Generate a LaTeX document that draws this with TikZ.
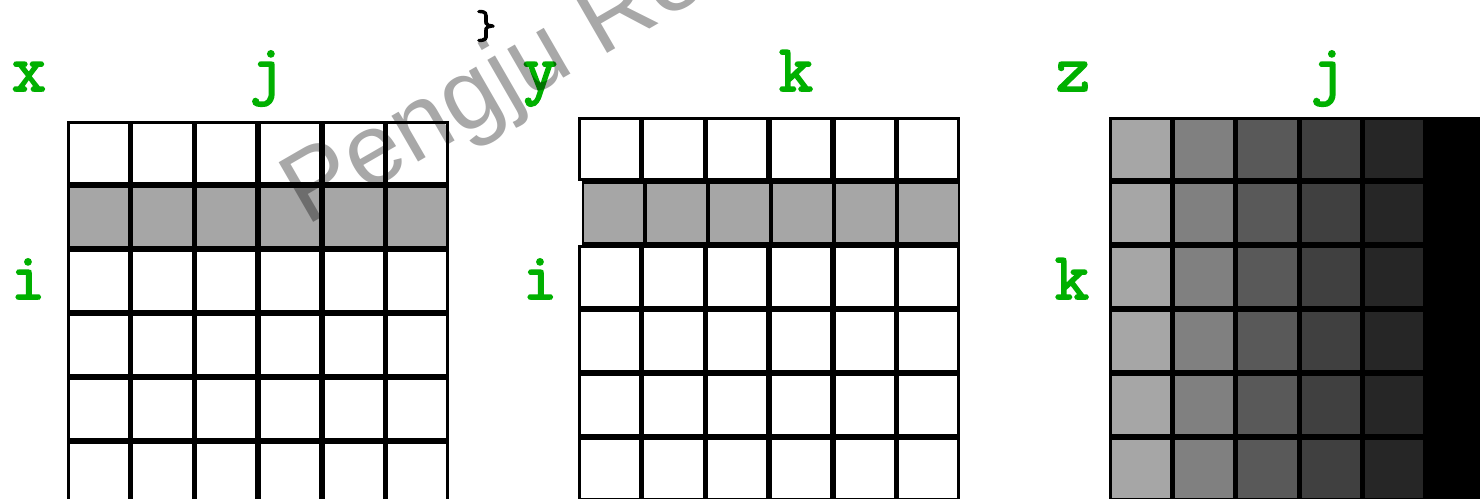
\documentclass[tikz,border=0pt]{standalone}
\usepackage{fontspec}
\setsansfont{Liberation Sans}
\newfontfamily\idxfont{Latin Modern Mono}[FakeBold=2.5]
\usetikzlibrary{positioning}
\definecolor{leaf}{RGB}{0,176,0}
\tikzset{
  cell/.style={draw=black,fill=#1,line width=1.6pt,minimum size=1.22cm,inner sep=0pt},
  cell/.default=white,
  idx/.style={font=\fontsize{38}{40}\selectfont\idxfont,text=leaf,anchor=base,inner sep=0pt},
  brace/.style={font=\fontsize{23}{25}\selectfont\idxfont,inner sep=0pt},
  wmark/.style={font=\fontsize{57}{60}\selectfont\sffamily,text=black,text opacity=0.34,
    rotate=30,anchor=base west,inner sep=0pt},
}
\begin{document}
\begin{tikzpicture}[x=0.02cm,y=-0.02cm]
  \useasboundingbox (0,0) rectangle (1480,499);
  % x, row i highlighted
  \foreach \r/\f in {0/white,1/black!35,2/white,3/white,4/white,5/white}
    \foreach \c in {0,...,5}
      \node[cell=\f] (xc-\r-\c) at ({98.8+63.7*\c},{153+64*\r}) {};
  % y, row i highlighted
  \foreach \r/\f/\l/\p in {0/white/578/63.7,1/black!35/582/63,2/white/578/63.7,
      3/white/578/63.7,4/white/578/63.7,5/white/578/63.7}
    \foreach \c in {0,...,5}
      \node[cell=\f] (yc-\r-\c) at ({\l+\p/2+\p*\c},{149+64*\r}) {};
  % z, one shade per column j
  \foreach \c/\f in {0/black!35,1/black!50,2/black!65,3/black!75,4/black!85,5/black}
    \foreach \r in {0,...,5}
      \node[cell=\f] (zc-\r-\c) at ({1140.7+63.4*\c},{149+64*\r}) {};

  \node[idx] (x-lbl) at (29,91) {x};
  \node[idx] (xj-lbl) at (267,91) {j};
  \node[idx] (xi-lbl) at (28,299) {i};
  \node[idx] (y-lbl) at (540,91) {y};
  \node[idx] (yk-lbl) at (796,91) {k};
  \node[idx] (yi-lbl) at (540,299) {i};
  \node[idx] (z-lbl) at (1073,91) {z};
  \node[idx] (zj-lbl) at (1328,91) {j};
  \node[idx] (zk-lbl) at (1072,299) {k};

  \node[brace] (close) at (486,26) {\}};
  \node[wmark] (wm) at (306,227) {Pengju Ren};
\end{tikzpicture}
\end{document}
